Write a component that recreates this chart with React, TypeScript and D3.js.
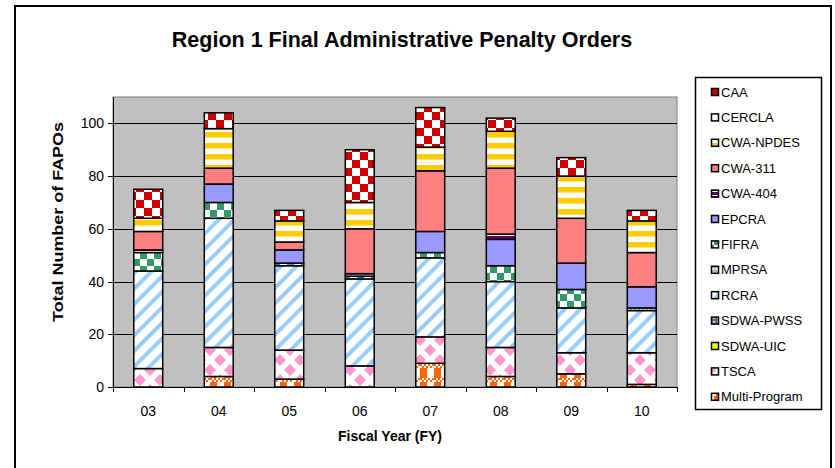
import React from "react";
import * as d3 from "d3";

const years = ["03", "04", "05", "06", "07", "08", "09", "10"];
// stacking order, bottom to top
const seriesNames = ["Multi-Program", "TSCA", "SDWA-UIC", "SDWA-PWSS", "RCRA", "MPRSA", "FIFRA", "EPCRA", "CWA-404", "CWA-311", "CWA-NPDES", "CERCLA", "CAA"];
const multiProgram = [0, 4, 3, 0, 9, 4, 5, 1];
const tsca = [7, 11, 11, 8, 10, 11, 8, 12];
const sdwaUic = [0, 0, 0, 0, 0, 0, 0, 0];
const sdwaPwss = [0, 0, 0, 0, 0, 0, 0, 0];
const rcra = [37, 49, 32, 33, 30, 25, 17, 16];
const mprsa = [0, 0, 0, 0, 0, 0, 0, 1];
const fifra = [7, 6, 1, 1, 2, 6, 7, 0];
const epcra = [0, 7, 5, 1, 8, 10, 10, 8];
const cwa404 = [1, 0, 0, 0, 0, 2, 0, 0];
const cwa311 = [7, 6, 3, 17, 23, 25, 17, 13];
const cwaNpdes = [5, 15, 8, 10, 9, 14, 16, 12];
const cercla = [0, 0, 0, 0, 0, 0, 0, 0];
const caa = [11, 6, 4, 20, 15, 5, 7, 4];
const seriesValues = [multiProgram, tsca, sdwaUic, sdwaPwss, rcra, mprsa, fifra, epcra, cwa404, cwa311, cwaNpdes, cercla, caa];
const yTicks = [0, 20, 40, 60, 80, 100];

const font = "'Liberation Sans', Arial, sans-serif";

const patId = (name: string) => "pat-" + name.replace(/[^A-Za-z0-9]/g, "");

const Patterns = () => (
  <defs>
    <pattern id={patId("CAA")} width={16} height={16} patternUnits="userSpaceOnUse">
      <rect width={16} height={16} fill="#fff" />
      <rect width={8} height={8} fill="#CC0000" />
      <rect x={8} y={8} width={8} height={8} fill="#CC0000" />
    </pattern>
    <pattern id={patId("CERCLA")} width={4} height={4} patternUnits="userSpaceOnUse">
      <rect width={4} height={4} fill="#fff" />
    </pattern>
    <pattern id={patId("CWA-NPDES")} width={4} height={11} patternUnits="userSpaceOnUse">
      <rect width={4} height={11} fill="#fff" />
      <rect width={4} height={5.5} fill="#FFCC00" />
    </pattern>
    <pattern id={patId("CWA-311")} width={4} height={4} patternUnits="userSpaceOnUse">
      <rect width={4} height={4} fill="#FF8080" />
    </pattern>
    <pattern id={patId("CWA-404")} width={4} height={4} patternUnits="userSpaceOnUse">
      <rect width={4} height={4} fill="#660066" />
      <rect y={3} width={4} height={1} fill="#fff" />
    </pattern>
    <pattern id={patId("EPCRA")} width={4} height={4} patternUnits="userSpaceOnUse">
      <rect width={4} height={4} fill="#9999FF" />
    </pattern>
    <pattern id={patId("FIFRA")} width={14} height={14} patternUnits="userSpaceOnUse">
      <rect width={14} height={14} fill="#fff" />
      <rect width={7} height={7} fill="#339966" />
      <rect x={7} y={7} width={7} height={7} fill="#339966" />
    </pattern>
    <pattern id={patId("MPRSA")} width={4} height={4} patternUnits="userSpaceOnUse">
      <rect width={4} height={4} fill="#B8B8B8" />
      <rect width={2} height={2} fill="#fff" />
    </pattern>
    <pattern id={patId("RCRA")} width={11} height={11} patternUnits="userSpaceOnUse" patternTransform="rotate(45)">
      <rect width={11} height={11} fill="#fff" />
      <rect width={4} height={11} fill="#99CCFF" />
    </pattern>
    <pattern id={patId("SDWA-PWSS")} width={4} height={4} patternUnits="userSpaceOnUse">
      <rect width={4} height={4} fill="#666699" />
      <rect x={1} y={1} width={2} height={2} fill="#ccd" />
    </pattern>
    <pattern id={patId("SDWA-UIC")} width={4} height={4} patternUnits="userSpaceOnUse">
      <rect width={4} height={4} fill="#FFFF00" />
    </pattern>
    <pattern id={patId("TSCA")} width={20} height={20} patternUnits="userSpaceOnUse">
      <rect width={20} height={20} fill="#fff" />
      <path d="M0 -6 L6 0 L0 6 L-6 0 Z M20 -6 L26 0 L20 6 L14 0 Z M0 14 L6 20 L0 26 L-6 20 Z M20 14 L26 20 L20 26 L14 20 Z M10 4 L16 10 L10 16 L4 10 Z" fill="#FF99CC" />
    </pattern>
    <pattern id={patId("Multi-Program")} width={14} height={14} patternUnits="userSpaceOnUse">
      <rect width={14} height={14} fill="#fff" />
      {[0, 2, 4, 6, 8, 10, 12].map((x) => (
        <rect key={"a" + x} x={x} y={(x / 2) % 2 ? 2 : 0} width={2} height={2} fill="#FF6600" />
      ))}
      <rect y={4} width={7} height={10} fill="#FF6600" />
    </pattern>
  </defs>
);

const App = () => {
  const width = 835;
  const height = 468;
  const plot = { left: 113, right: 677, top: 97, bottom: 387 };

  const x = d3.scaleBand().domain(years).range([plot.left, plot.right]).paddingInner(0.59).paddingOuter(0.295);
  const xTickScale = d3.scaleBand().domain(years).range([plot.left, plot.right]);
  const y = d3.scaleLinear().domain([0, 110]).range([plot.bottom, plot.top]);

  const table = years.map((yr, i) => {
    const row: Record<string, number | string> = { year: yr };
    seriesNames.forEach((s, j) => (row[s] = seriesValues[j][i]));
    return row;
  });
  const stacked = d3.stack<any>().keys(seriesNames)(table);

  const legendTop = 92;
  const legendStep = 25.4;
  const legendNames = [...seriesNames].reverse();

  return (
    <svg width={width} height={height} style={{ position: "absolute", left: 0, top: 0 }} fontFamily={font}>
      <Patterns />
      <rect x={0} y={0} width={width} height={height} fill="#fff" />
      <rect x={15} y={6} width={816} height={480} fill="#fff" stroke="#000" strokeWidth={2} />

      <text x={402} y={47} textAnchor="middle" fontSize={21.5} fontWeight="bold">
        Region 1 Final Administrative Penalty Orders
      </text>

      {/* plot area */}
      <rect x={plot.left} y={plot.top} width={plot.right - plot.left} height={plot.bottom - plot.top} fill="#C0C0C0" stroke="#808080" strokeWidth={1} />
      {yTicks.filter((t) => t > 0).map((t) => (
        <line key={t} x1={plot.left} x2={plot.right} y1={Math.round(y(t)) + 0.5} y2={Math.round(y(t)) + 0.5} stroke="#000" strokeWidth={1} />
      ))}

      {/* bars */}
      {stacked.map((layer) => (
        <g key={layer.key} fill={`url(#${patId(layer.key)})`}>
          {layer.map((d, i) =>
            d[1] - d[0] > 0 ? (
              <rect key={i} x={x(years[i])} y={y(d[1])} width={x.bandwidth()} height={y(d[0]) - y(d[1])} stroke="#000" strokeWidth={1.5} />
            ) : null
          )}
        </g>
      ))}

      {/* axes */}
      <line x1={plot.left + 0.5} x2={plot.left + 0.5} y1={plot.top} y2={plot.bottom} stroke="#000" />
      <line x1={plot.left} x2={plot.right} y1={plot.bottom + 0.5} y2={plot.bottom + 0.5} stroke="#000" />
      {yTicks.map((t) => (
        <g key={t}>
          <line x1={plot.left - 5} x2={plot.left} y1={Math.round(y(t)) + 0.5} y2={Math.round(y(t)) + 0.5} stroke="#000" />
          <text x={104} y={y(t) + 5} textAnchor="end" fontSize={14}>
            {t}
          </text>
        </g>
      ))}
      {years.map((yr) => (
        <text key={yr} x={(xTickScale(yr) ?? 0) + xTickScale.bandwidth() / 2} y={416} textAnchor="middle" fontSize={14}>
          {yr}
        </text>
      ))}
      {[...years.map((yr) => xTickScale(yr) ?? 0), plot.right].map((tx, i) => (
        <line key={i} x1={Math.round(tx) + 0.5} x2={Math.round(tx) + 0.5} y1={plot.bottom} y2={plot.bottom + 5} stroke="#000" />
      ))}

      <text x={390} y={441} textAnchor="middle" fontSize={14} fontWeight="bold">
        Fiscal Year (FY)
      </text>
      <text transform="translate(63,222) rotate(-90)" textAnchor="middle" fontSize={14} fontWeight="bold" textLength={200} lengthAdjust="spacingAndGlyphs">
        Total Number of FAPOs
      </text>

      {/* legend */}
      <rect x={695.5} y={77.5} width={126} height={332} fill="#fff" stroke="#000" strokeWidth={1.5} />
      {legendNames.map((name, i) => {
        const cy = legendTop + i * legendStep;
        return (
          <g key={name}>
            <rect x={711.5} y={cy - 3.5} width={7} height={7} fill={`url(#${patId(name)})`} stroke="#000" strokeWidth={1.5} />
            <text x={721} y={cy + 4.5} fontSize={13}>
              {name}
            </text>
          </g>
        );
      })}
    </svg>
  );
};

export default App;
